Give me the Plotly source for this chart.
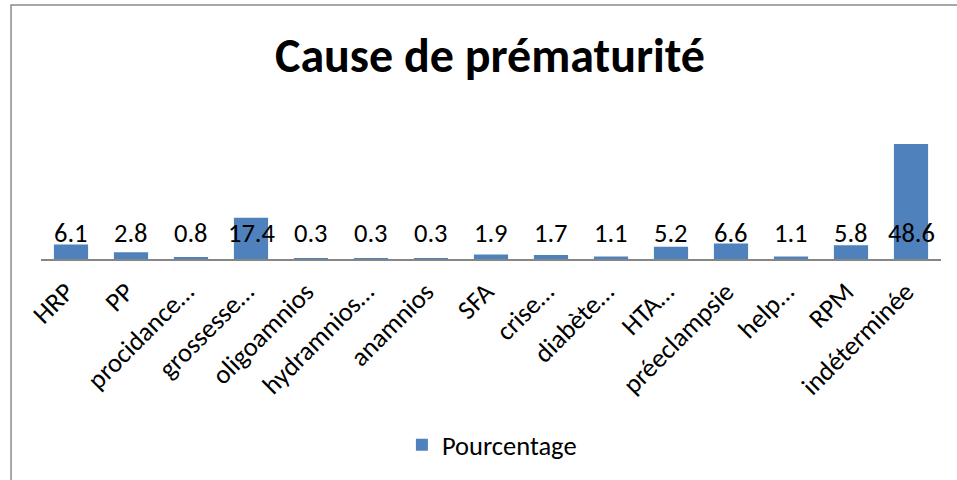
import plotly.graph_objects as go

categories = ["HRP", "PP", "procidance…", "grossesse…", "oligoamnios", "hydramnios…",
              "anamnios", "SFA", "crise…", "diabète…", "HTA…", "préeclampsie",
              "help…", "RPM", "indéterminée"]
values = [6.1, 2.8, 0.8, 17.4, 0.3, 0.3, 0.3, 1.9, 1.7, 1.1, 5.2, 6.6, 1.1, 5.8, 48.6]
series_name = "Pourcentage"
title_text = "Cause de prématurité"

FONT = "Carlito, Calibri, 'Liberation Sans', sans-serif"
FS = 26.5
LABEL_Y = 11  # fixed row of data labels (value axis units)

fig = go.Figure()
fig.add_trace(go.Bar(
    x=categories, y=values, name=series_name,
    marker=dict(color="#4F81BD", line=dict(width=0)),
))

for c, v in zip(categories, values):
    fig.add_annotation(x=c, y=LABEL_Y, text=f"{v}", showarrow=False,
                       xref="x", yref="y", yanchor="middle",
                       font=dict(family=FONT, size=FS, color="black"))

# chart border (left and top edges visible)
fig.add_shape(type="rect", xref="paper", yref="paper",
              x0=-0.0333, x1=1.2, y0=-3, y1=1.789,
              line=dict(color="#8C8C8C", width=1.5), layer="below")

fig.update_layout(
    width=957, height=480,
    margin=dict(l=41, r=16, t=117, b=221),
    paper_bgcolor="white", plot_bgcolor="white",
    bargap=0.43,
    title=dict(text=f"<b>{title_text}</b>", x=0.512, xanchor="center",
               y=0.885, yanchor="middle",
               font=dict(family=FONT, size=48, color="black")),
    font=dict(family=FONT, size=FS, color="black"),
    showlegend=True,
    legend=dict(orientation="h", x=0.501, xanchor="center", y=-1.31, yanchor="middle",
                font=dict(family=FONT, size=FS, color="black")),
    xaxis=dict(showline=True, linecolor="#868686", linewidth=1.5, tickangle=-45,
               showgrid=False, ticks="outside", ticklen=5, tickcolor="white",
               ticklabelshift=-5,
               tickfont=dict(family=FONT, size=FS, color="black")),
    yaxis=dict(range=[0, 60], visible=False, showgrid=False),
)

fig.write_html("out.html", config={"displayModeBar": False},
               post_script="document.body.style.margin='0';")
